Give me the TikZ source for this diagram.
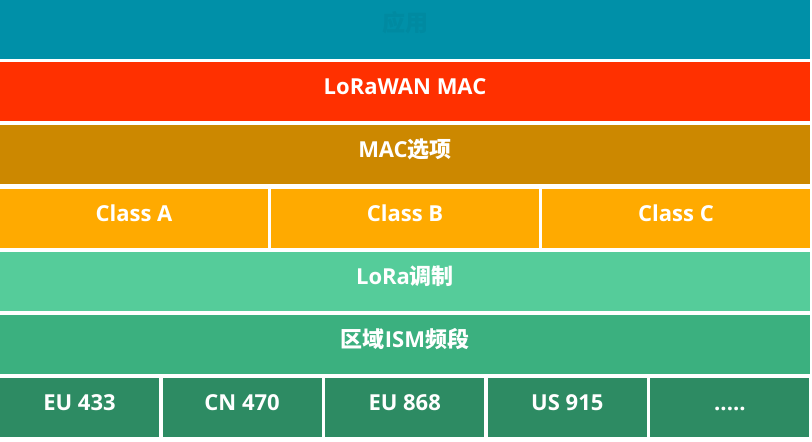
\documentclass[tikz,border=0pt]{standalone}
\usepackage{fontspec}
\setmainfont{Open Sans}
\newfontfamily\cjk{Noto Sans CJK SC}
\usetikzlibrary{positioning}
\definecolor{appteal}{HTML}{0090A8}
\definecolor{macred}{HTML}{FF3000}
\definecolor{optgold}{HTML}{CC8800}
\definecolor{classorange}{HTML}{FFAA00}
\definecolor{modgreen}{HTML}{55CC9A}
\definecolor{ismgreen}{HTML}{3BB07F}
\definecolor{banddark}{HTML}{2D8B63}
\tikzstyle{layer} = [rectangle, inner sep=0pt, minimum height=59.5pt, text=white, text height=20pt, text depth=15pt, font=\fontsize{22}{26}\selectfont\bfseries]
\newcommand{\morebands}{.....}

\begin{document}
\begin{tikzpicture}[x=1pt, y=-1pt]
\useasboundingbox (0,0) rectangle (812,442);
% full-width layers
\node [layer, fill=appteal, minimum width=810pt, minimum height=58.5pt, text=appteal!96!black, font=\fontsize{23}{26}\selectfont\bfseries] (app) at (405, 29.25) {\cjk 应用};
\node [layer, fill=macred, minimum width=810pt] (mac) at (405, 91.5) {LoRaWAN MAC};
\node [layer, fill=optgold, minimum width=810pt] (opt) at (405, 154.5) {MAC{\cjk 选项}};
% classes
\foreach \i/\cls in {0/A, 1/B, 2/C}
  \node [layer, fill=classorange, minimum width=268pt] (class\cls) at (134+271*\i, 218.5) {Class \cls};
\node [layer, fill=modgreen, minimum width=810pt] (lora) at (405, 281.5) {LoRa{\cjk 调制}};
\node [layer, fill=ismgreen, minimum width=810pt] (ism) at (405, 344.5) {{\cjk 区域}ISM{\cjk 频段}};
% regional bands
\foreach \i/\band in {0/EU 433, 1/CN 470, 2/EU 868, 3/US 915, 4/\morebands}
  \node [layer, fill=banddark, minimum width=159pt] (band\i) at (79.5+162.6*\i, 407.5) {\band};
\end{tikzpicture}
\end{document}
